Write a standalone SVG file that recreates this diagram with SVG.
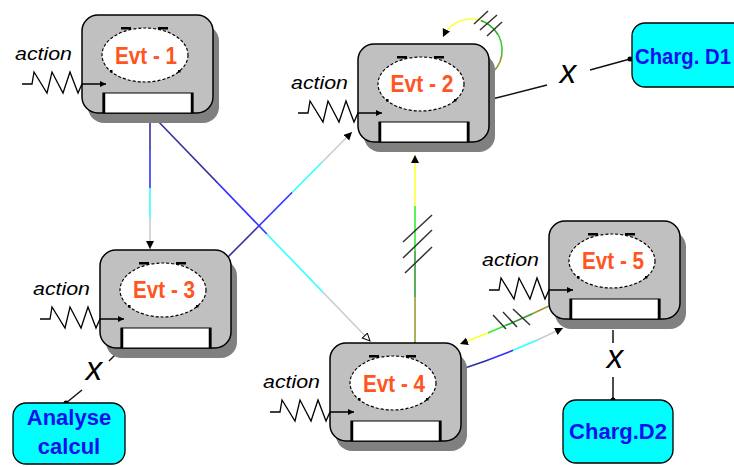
<svg xmlns="http://www.w3.org/2000/svg" xmlns:xlink="http://www.w3.org/1999/xlink" width="734" height="467" viewBox="0 0 734 467">
<style>
.shadow{fill:#808080}
.box{fill:#c0c0c0;stroke:#000;stroke-width:1.5}
.ell{fill:#fff;stroke:#000;stroke-width:1.2;stroke-dasharray:3 2}
.mark{fill:#000}
.slot{fill:#fff;stroke:#000;stroke-width:1}
.slotside{stroke:#000;stroke-width:2.5}
.evt{font-family:'Liberation Sans',Arial,sans-serif;font-weight:bold;font-size:24px;fill:#ff5522;text-anchor:middle}
.act{font-family:'Liberation Sans',Arial,sans-serif;font-style:italic;font-size:19px;fill:#000}
.zz{fill:none;stroke:#000;stroke-width:1.3}
.lbl{font-family:'Liberation Sans',Arial,sans-serif;font-weight:bold;font-size:22px;fill:#1010ee;text-anchor:middle}
.tgt{fill:#00ffff;stroke:#000;stroke-width:1.3}
.conn{fill:none;stroke-width:1.6}
.blk{fill:none;stroke:#111;stroke-width:1.5}
.hatch{stroke:#333;stroke-width:1.5}
.xs{font-family:'Liberation Sans',Arial,sans-serif;font-style:italic;font-size:33px;fill:#000;text-anchor:middle}
</style>
<defs>
<marker id="arr" markerUnits="userSpaceOnUse" markerWidth="10" markerHeight="10" refX="8" refY="4" orient="auto"><path d="M0,0 L8,4 L0,8 z" fill="#000"/></marker>
<marker id="arrO" markerUnits="userSpaceOnUse" markerWidth="10" markerHeight="10" refX="8" refY="4" orient="auto"><path d="M0.5,0.5 L8,4 L0.5,7.5 z" fill="#fff" stroke="#000" stroke-width="1"/></marker>
<marker id="arrS" markerUnits="userSpaceOnUse" markerWidth="8" markerHeight="8" refX="6" refY="3" orient="auto"><path d="M0,0 L6,3 L0,6 z" fill="#000"/></marker>
<marker id="dot" markerUnits="userSpaceOnUse" markerWidth="6" markerHeight="6" refX="3" refY="3"><circle cx="3" cy="3" r="2.5" fill="#000"/></marker>
<linearGradient id="g1" gradientUnits="userSpaceOnUse" x1="150" y1="113" x2="150" y2="249">
<stop offset=".27" stop-color="#333399"/><stop offset=".27" stop-color="#3333ff"/><stop offset=".55" stop-color="#3333ff"/><stop offset=".55" stop-color="#33ffff"/><stop offset=".77" stop-color="#33ffff"/><stop offset=".77" stop-color="#cccccc"/></linearGradient>
<linearGradient id="g2" gradientUnits="userSpaceOnUse" x1="155" y1="118" x2="370" y2="341">
<stop offset=".29" stop-color="#333399"/><stop offset=".29" stop-color="#3333ff"/><stop offset=".52" stop-color="#3333ff"/><stop offset=".52" stop-color="#33ffff"/><stop offset=".78" stop-color="#33ffff"/><stop offset=".78" stop-color="#cccccc"/></linearGradient>
<linearGradient id="g3" gradientUnits="userSpaceOnUse" x1="227" y1="258" x2="352" y2="132">
<stop offset=".24" stop-color="#333399"/><stop offset=".24" stop-color="#3333ff"/><stop offset=".52" stop-color="#3333ff"/><stop offset=".52" stop-color="#33ffff"/><stop offset=".76" stop-color="#33ffff"/><stop offset=".76" stop-color="#cccccc"/></linearGradient>
<linearGradient id="g4" gradientUnits="userSpaceOnUse" x1="415" y1="343" x2="415" y2="155">
<stop offset=".245" stop-color="#999933"/><stop offset=".245" stop-color="#339933"/><stop offset=".49" stop-color="#339933"/><stop offset=".49" stop-color="#33ee33"/><stop offset=".73" stop-color="#33ee33"/><stop offset=".73" stop-color="#ffff33"/></linearGradient>
<linearGradient id="g5" gradientUnits="userSpaceOnUse" x1="549" y1="306" x2="460" y2="344">
<stop offset=".19" stop-color="#999933"/><stop offset=".19" stop-color="#339933"/><stop offset=".49" stop-color="#339933"/><stop offset=".49" stop-color="#33ee33"/><stop offset=".69" stop-color="#33ee33"/><stop offset=".69" stop-color="#ffff33"/></linearGradient>
<linearGradient id="g6" gradientUnits="userSpaceOnUse" x1="462" y1="369" x2="563" y2="328">
<stop offset=".26" stop-color="#333399"/><stop offset=".26" stop-color="#3333ff"/><stop offset=".5" stop-color="#3333ff"/><stop offset=".5" stop-color="#33ffff"/><stop offset=".74" stop-color="#33ffff"/><stop offset=".74" stop-color="#cccccc"/></linearGradient>
<linearGradient id="g7" gradientUnits="userSpaceOnUse" x1="495" y1="75" x2="450" y2="20">
<stop offset=".15" stop-color="#999933"/><stop offset=".15" stop-color="#33cc33"/><stop offset=".41" stop-color="#33cc33"/><stop offset=".41" stop-color="#22aa22"/><stop offset=".72" stop-color="#22aa22"/><stop offset=".72" stop-color="#ffff33"/></linearGradient>
<g id="chrome">
<rect class="shadow" x="6" y="10" width="131" height="98" rx="16"/>
<rect class="box" x="0" y="0" width="131" height="98" rx="16"/>
<ellipse class="ell" cx="63" cy="40" rx="43" ry="27"/>
<rect class="mark" x="39" y="12" width="10" height="2.5"/>
<rect class="mark" x="76" y="12" width="10" height="2.5"/>
<rect class="mark" x="28" y="55" width="2.5" height="2.5"/>
<rect class="mark" x="96" y="55" width="2.5" height="2.5"/>
<rect class="slot" x="21" y="78" width="90" height="20"/>
<line class="slotside" x1="22" y1="78" x2="22" y2="98"/>
<line class="slotside" x1="110" y1="78" x2="110" y2="98"/>
<text class="act" x="-67" y="45" textLength="57" lengthAdjust="spacingAndGlyphs">action</text>
<polyline class="zz" points="-60,69 -50,69 -48,57 -35,78 -30,57 -19,78 -12,57 -4,78 0,69 24,69" marker-end="url(#arrS)"/>
</g>
</defs>

<g id="connectors">
<line class="conn" x1="150" y1="113" x2="150" y2="249" stroke="url(#g1)" marker-end="url(#arr)"/>
<line class="conn" x1="155" y1="118" x2="370" y2="341" stroke="url(#g2)" marker-end="url(#arrO)"/>
<line class="conn" x1="227" y1="258" x2="352" y2="132" stroke="url(#g3)" marker-end="url(#arr)"/>
<line class="conn" x1="415" y1="343" x2="415" y2="155" stroke="url(#g4)" marker-end="url(#arr)"/>
<line class="hatch" x1="403" y1="242" x2="432" y2="215"/>
<line class="hatch" x1="403" y1="258" x2="432" y2="230"/>
<line class="hatch" x1="405" y1="273" x2="432" y2="247"/>
<path class="conn" d="M549,306 Q505,327 460,344" stroke="url(#g5)" marker-end="url(#arr)"/>
<line class="hatch" x1="493" y1="315" x2="506" y2="329"/>
<line class="hatch" x1="503" y1="312" x2="517" y2="327"/>
<line class="hatch" x1="513" y1="309" x2="530" y2="325"/>
<path class="conn" d="M462,369 Q512,353 563,328" stroke="url(#g6)" marker-end="url(#arr)"/>
<path class="conn" d="M492,73 A31,31 0 1 0 443,37" stroke="url(#g7)" marker-end="url(#arr)"/>
<line class="hatch" x1="474" y1="24" x2="488" y2="11"/>
<line class="hatch" x1="480" y1="30" x2="497" y2="15"/>
<line class="hatch" x1="487" y1="36" x2="502" y2="22"/>
<line class="blk" x1="492" y1="99" x2="547" y2="85"/>
<text class="xs" x="568" y="83">x</text>
<line class="blk" x1="590" y1="70" x2="630" y2="59" marker-end="url(#dot)"/>
<line class="blk" x1="117" y1="353" x2="109" y2="361"/>
<text class="xs" x="94" y="380">x</text>
<line class="blk" x1="82" y1="390" x2="66" y2="403" marker-end="url(#dot)"/>
<line class="blk" x1="613" y1="330" x2="613" y2="343"/>
<text class="xs" x="615" y="368">x</text>
<line class="blk" x1="613" y1="377" x2="613" y2="400" marker-end="url(#dot)"/>
</g>

<g id="evt1" transform="translate(82,15)"><use xlink:href="#chrome"/><text class="evt" x="64" y="49" textLength="62" lengthAdjust="spacingAndGlyphs">Evt - 1</text></g>
<g id="evt2" transform="translate(358,44)"><use xlink:href="#chrome"/><text class="evt" x="64" y="48" textLength="63" lengthAdjust="spacingAndGlyphs">Evt - 2</text></g>
<g id="evt3" transform="translate(100,250)"><use xlink:href="#chrome"/><text class="evt" x="64" y="48" textLength="62" lengthAdjust="spacingAndGlyphs">Evt - 3</text></g>
<g id="evt4" transform="translate(330,343)"><use xlink:href="#chrome"/><text class="evt" x="64" y="49" textLength="62" lengthAdjust="spacingAndGlyphs">Evt - 4</text></g>
<g id="evt5" transform="translate(549,221)"><use xlink:href="#chrome"/><text class="evt" x="64" y="48" textLength="62" lengthAdjust="spacingAndGlyphs">Evt - 5</text></g>

<g id="chargD1"><rect class="tgt" x="632" y="23" width="130" height="64" rx="13"/><text class="lbl" x="635" y="64" style="text-anchor:start" textLength="96" lengthAdjust="spacingAndGlyphs">Charg. D1</text></g>
<g id="analyse"><rect class="tgt" x="13" y="403" width="112" height="61" rx="13"/><text class="lbl" x="69" y="425">Analyse</text><text class="lbl" x="69" y="454">calcul</text></g>
<g id="chargD2"><rect class="tgt" x="563" y="400" width="110" height="63" rx="13"/><text class="lbl" x="618" y="439">Charg.D2</text></g>
</svg>
